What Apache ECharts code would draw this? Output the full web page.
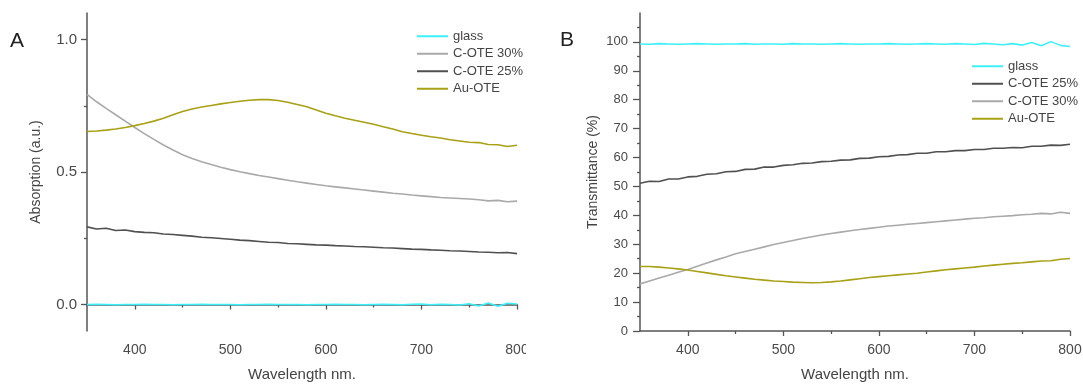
<!DOCTYPE html>
<html>
<head>
<meta charset="utf-8">
<script src="https://cdn.jsdelivr.net/npm/echarts@6/dist/echarts.min.js"></script>
<style>
  html, body { margin: 0; padding: 0; background: #fff; }
  #chart { width: 1083px; height: 385px; }
</style>
</head>
<body>
<div id="chart"></div>
<script>
// Wavelength grid (nm) shared by every spectrum
const wavelengths = [350,360,370,380,390,400,410,420,430,440,450,460,470,480,490,500,510,520,530,540,550,560,570,580,590,600,610,620,630,640,650,660,670,680,690,700,710,720,730,740,750,760,770,780,790,800];

// Panel A: absorption (a.u.)
const absGlass = [0.000,0.001,0.000,-0.001,0.000,0.000,0.001,0.000,0.000,-0.001,0.000,0.000,0.001,0.000,0.000,0.000,-0.001,0.000,0.000,0.001,0.000,0.000,0.000,-0.001,0.000,0.000,0.001,0.000,0.000,-0.001,0.000,0.001,0.000,-0.001,0.001,0.002,-0.001,0.001,0.000,-0.002,0.003,-0.006,0.006,-0.007,0.005,0.002];
const absCOTE30 = [0.793,0.765,0.740,0.716,0.692,0.668,0.645,0.623,0.602,0.583,0.565,0.551,0.539,0.528,0.518,0.509,0.501,0.494,0.487,0.481,0.475,0.469,0.463,0.458,0.453,0.448,0.444,0.440,0.436,0.432,0.428,0.424,0.420,0.417,0.413,0.410,0.407,0.404,0.402,0.400,0.398,0.395,0.391,0.393,0.388,0.390];
const absCOTE25 = [0.293,0.285,0.288,0.279,0.281,0.275,0.272,0.271,0.266,0.264,0.261,0.258,0.254,0.252,0.249,0.246,0.243,0.241,0.238,0.235,0.234,0.230,0.229,0.227,0.225,0.224,0.222,0.221,0.219,0.218,0.216,0.214,0.213,0.211,0.209,0.208,0.206,0.205,0.203,0.202,0.200,0.198,0.197,0.195,0.196,0.192];
const absAuOTE = [0.653,0.655,0.658,0.662,0.668,0.675,0.683,0.692,0.703,0.716,0.728,0.738,0.745,0.751,0.757,0.762,0.767,0.771,0.773,0.773,0.770,0.763,0.755,0.746,0.734,0.722,0.712,0.703,0.695,0.688,0.680,0.671,0.662,0.652,0.645,0.639,0.633,0.628,0.622,0.617,0.612,0.611,0.604,0.603,0.596,0.601];

// Panel B: transmittance (%)
const trGlass = [99.3,99.2,99.4,99.3,99.2,99.3,99.4,99.3,99.2,99.3,99.3,99.4,99.2,99.3,99.3,99.2,99.4,99.3,99.3,99.2,99.3,99.4,99.3,99.2,99.3,99.3,99.4,99.3,99.2,99.3,99.4,99.3,99.2,99.4,99.3,99.1,99.5,99.3,99.0,99.4,98.9,99.8,98.7,100.1,98.8,98.4];
const trCOTE25 = [51.1,51.8,51.7,52.6,52.6,53.3,53.5,54.2,54.4,55.1,55.2,55.9,56.0,56.7,56.7,57.3,57.5,58.0,58.1,58.6,58.7,59.1,59.2,59.7,59.8,60.3,60.4,60.9,61.0,61.5,61.5,62.0,62.0,62.4,62.4,62.8,62.8,63.2,63.2,63.5,63.4,63.9,63.9,64.3,64.2,64.6];
const trCOTE30 = [16.3,17.3,18.3,19.3,20.3,21.3,22.4,23.5,24.6,25.6,26.7,27.5,28.3,29.1,29.9,30.6,31.3,32.0,32.6,33.2,33.7,34.2,34.7,35.1,35.5,35.9,36.3,36.6,36.9,37.2,37.5,37.8,38.1,38.4,38.7,39.0,39.2,39.5,39.7,39.9,40.2,40.4,40.7,40.5,41.1,40.7];
const trAuOTE = [22.3,22.3,22.1,21.8,21.5,21.1,20.6,20.1,19.6,19.1,18.7,18.3,17.9,17.6,17.3,17.1,16.9,16.8,16.7,16.8,17.0,17.3,17.7,18.1,18.5,18.8,19.1,19.4,19.7,20.0,20.4,20.8,21.2,21.5,21.8,22.1,22.5,22.8,23.1,23.4,23.6,23.9,24.2,24.3,24.8,25.1];

// Axis ticks
const xMajorTicks = [400,500,600,700,800];
const xMinorTicks = [450,550,650,750];
const absMajorTicks = [0,0.5,1.0];
const absMinorTicks = [0.25,0.75];
const trMajorTicks = [0,10,20,30,40,50,60,70,80,90,100];
const trMinorTicks = [5,15,25,35,45,55,65,75,85,95,105];

const COLORS = { glass: '#3cf0fb', c30: '#a9a9a9', c25: '#505050', au: '#a8a015' };
const FONT = 'Liberation Sans, Arial, sans-serif';
const AXIS_COLOR = '#555';
const LABEL_COLOR = '#4a4a4a';

function pairs(values) { return wavelengths.map((w, i) => [w, values[i]]); }

function lineSeries(name, values, color, axisIdx) {
  return {
    type: 'line', name: name, data: pairs(values),
    xAxisIndex: axisIdx, yAxisIndex: axisIdx,
    symbol: 'none', smooth: false, animation: false,
    lineStyle: { color: color, width: 1.6 }, itemStyle: { color: color },
    z: 3
  };
}

function xMain(grid) {
  return {
    type: 'value', gridIndex: grid, min: 350, max: 800, position: 'bottom',
    name: 'Wavelength nm.', nameLocation: 'middle', nameGap: 36,
    nameTextStyle: { fontFamily: FONT, fontSize: 15, color: '#444' },
    axisLine: { show: true, lineStyle: { color: AXIS_COLOR, width: 1.5 } },
    axisTick: { show: true, customValues: xMajorTicks, length: 5, lineStyle: { color: AXIS_COLOR, width: 1.3 } },
    axisLabel: { customValues: xMajorTicks, margin: 12, fontFamily: FONT, fontSize: 14, color: LABEL_COLOR },
    splitLine: { show: false }
  };
}
function xMinor(grid) {
  return {
    type: 'value', gridIndex: grid, min: 350, max: 800, position: 'bottom',
    axisLine: { show: false },
    axisTick: { show: true, customValues: xMinorTicks, length: 3, lineStyle: { color: AXIS_COLOR, width: 1.3 } },
    axisLabel: { show: false }, splitLine: { show: false }
  };
}

function legendBlock(left, top, names) {
  return {
    left: left, top: top, orient: 'vertical', itemGap: 3, itemWidth: 31, itemHeight: 2,
    icon: 'rect', padding: 0,
    data: names,
    textStyle: { fontFamily: FONT, fontSize: 13, color: '#444', lineHeight: 14.5 }
  };
}

const option = {
  animation: false,
  backgroundColor: '#fff',
  grid: [
    { left: 87, right: 566, top: 13, bottom: 54, containLabel: false, outerBoundsMode: 'none' },
    { left: 640, right: 13, top: 13, bottom: 54, containLabel: false, outerBoundsMode: 'none' }
  ],
  xAxis: [ xMain(0), xMinor(0), xMain(1), xMinor(1) ],
  yAxis: [
    {
      type: 'value', gridIndex: 0, min: -0.1, max: 1.1, position: 'left',
      name: 'Absorption (a.u.)', nameLocation: 'middle', nameGap: 44,
      nameTextStyle: { fontFamily: FONT, fontSize: 14, color: '#444' },
      axisLine: { show: true, lineStyle: { color: AXIS_COLOR, width: 1.5 } },
      axisTick: { show: true, customValues: absMajorTicks, length: 6, lineStyle: { color: AXIS_COLOR, width: 1.3 } },
      axisLabel: { customValues: absMajorTicks, margin: 10, fontFamily: FONT, fontSize: 15, color: LABEL_COLOR,
                   formatter: v => v.toFixed(1) },
      splitLine: { show: false }
    },
    {
      type: 'value', gridIndex: 0, min: -0.1, max: 1.1, position: 'left',
      axisLine: { show: false },
      axisTick: { show: true, customValues: absMinorTicks, length: 3, lineStyle: { color: AXIS_COLOR, width: 1.3 } },
      axisLabel: { show: false }, splitLine: { show: false }
    },
    {
      type: 'value', gridIndex: 1, min: 0, max: 110, position: 'left',
      name: 'Transmittance (%)', nameLocation: 'middle', nameGap: 40,
      nameTextStyle: { fontFamily: FONT, fontSize: 14, color: '#444' },
      axisLine: { show: true, lineStyle: { color: AXIS_COLOR, width: 1.5 } },
      axisTick: { show: true, customValues: trMajorTicks, length: 7, lineStyle: { color: AXIS_COLOR, width: 1.3 } },
      axisLabel: { customValues: trMajorTicks, margin: 12, fontFamily: FONT, fontSize: 13, color: LABEL_COLOR },
      splitLine: { show: false }
    },
    {
      type: 'value', gridIndex: 1, min: 0, max: 110, position: 'left',
      axisLine: { show: false },
      axisTick: { show: true, customValues: trMinorTicks, length: 3, lineStyle: { color: AXIS_COLOR, width: 1.3 } },
      axisLabel: { show: false }, splitLine: { show: false }
    }
  ],
  legend: [
    legendBlock(417, 29, ['glass', 'C-OTE 30%', 'C-OTE 25%', 'Au-OTE']),
    legendBlock(972, 59, ['glass', 'C-OTE 25%', 'C-OTE 30%', 'Au-OTE'])
  ],
  graphic: [
    { type: 'text', left: 10, top: 31, style: { text: 'A', fontFamily: FONT, fontSize: 21, fill: '#222' } },
    { type: 'text', left: 560, top: 30, style: { text: 'B', fontFamily: FONT, fontSize: 21, fill: '#222' } },
    // the left panel's figure edge trims its last tick label
    { type: 'rect', shape: { x: 526, y: 338, width: 22, height: 24 }, style: { fill: '#fff' }, z: 100 }
  ],
  series: [
    lineSeries('glass', absGlass, COLORS.glass, 0),
    lineSeries('C-OTE 30%', absCOTE30, COLORS.c30, 0),
    lineSeries('C-OTE 25%', absCOTE25, COLORS.c25, 0),
    lineSeries('Au-OTE', absAuOTE, COLORS.au, 0),
    lineSeries('glass', trGlass, COLORS.glass, 2),
    lineSeries('C-OTE 25%', trCOTE25, COLORS.c25, 2),
    lineSeries('C-OTE 30%', trCOTE30, COLORS.c30, 2),
    lineSeries('Au-OTE', trAuOTE, COLORS.au, 2)
  ]
};

const chart = echarts.init(document.getElementById('chart'), null, { renderer: 'canvas' });
chart.setOption(option);
</script>
</body>
</html>
